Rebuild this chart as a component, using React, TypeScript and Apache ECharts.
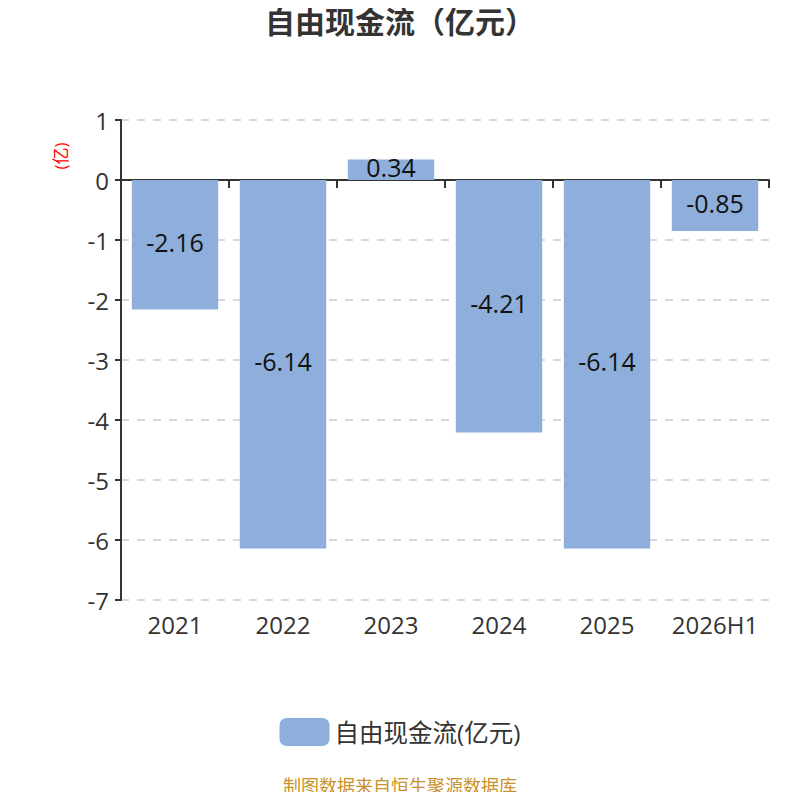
import React, { useEffect, useRef } from "react";
import * as echarts from "echarts";

const categories = ["2021", "2022", "2023", "2024", "2025", "2026H1"];
const values = [-2.16, -6.14, 0.34, -4.21, -6.14, -0.85];
const seriesName = "自由现金流(亿元)";
const titleText = "自由现金流（亿元）";
const unitText = "(亿)";
const sourceText = "制图数据来自恒生聚源数据库";

const FONT = "'Open Sans', 'Noto Sans CJK SC', sans-serif";

export default function App() {
  const ref = useRef<HTMLDivElement>(null);
  useEffect(() => {
    if (!ref.current) return;
    const chart = echarts.init(ref.current, null, { renderer: "svg" });
    chart.setOption({
      animation: false,
      textStyle: { fontFamily: FONT },
      title: {
        text: titleText,
        left: "center",
        top: 1,
        textStyle: { fontSize: 30, fontWeight: "bold", color: "#333", fontFamily: FONT },
      },
      grid: { left: 121, right: 31, top: 120, bottom: 200 },
      legend: {
        bottom: 49,
        left: "center",
        itemWidth: 50,
        itemHeight: 28,
        itemGap: 10,
        icon: "roundRect",
        textStyle: { fontSize: 24.5, color: "#333", fontFamily: FONT },
        data: [seriesName],
      },
      xAxis: [
        {
          type: "category",
          data: categories,
          position: "bottom",
          axisLine: { show: false, onZero: false },
          axisTick: { show: false },
          axisLabel: { fontSize: 24, color: "#333", margin: 12, interval: 0, fontFamily: FONT },
        },
        {
          type: "category",
          data: categories,
          position: "top",
          axisLine: { show: true, onZero: true, lineStyle: { color: "#333", width: 2 } },
          axisTick: { show: true, inside: true, length: 8, lineStyle: { color: "#333", width: 2 } },
          axisLabel: { show: false },
        },
      ],
      yAxis: {
        type: "value",
        min: -7,
        max: 1,
        interval: 1,
        axisLine: { show: true, lineStyle: { color: "#333", width: 2 } },
        axisTick: { show: true, length: 6, lineStyle: { color: "#333", width: 2 } },
        axisLabel: { fontSize: 24, color: "#333", margin: 12, fontFamily: FONT },
        splitLine: { show: true, lineStyle: { type: [8, 8], color: "#ccc", width: 1.5 } },
      },
      graphic: [
        {
          type: "text",
          x: 60,
          y: 156,
          rotation: Math.PI / 2,
          style: {
            text: unitText,
            fill: "#f00",
            fontSize: 17,
            fontFamily: FONT,
            textAlign: "center",
            textVerticalAlign: "middle",
          },
        },
        {
          type: "text",
          x: 400,
          y: 786,
          style: {
            text: sourceText,
            fill: "#c8922a",
            fontSize: 18,
            fontFamily: FONT,
            textAlign: "center",
            textVerticalAlign: "middle",
          },
        },
      ],
      series: [
        {
          name: seriesName,
          type: "bar",
          xAxisIndex: 0,
          data: values,
          barWidth: "80%",
          itemStyle: { color: "#8eaedb" },
          label: {
            show: true,
            position: "inside",
            offset: [0, -3],
            fontSize: 25,
            color: "#111",
            fontFamily: FONT,
          },
        },
      ],
    });
    return () => chart.dispose();
  }, []);
  return <div ref={ref} style={{ width: 800, height: 800, margin: -8 }} />;
}
